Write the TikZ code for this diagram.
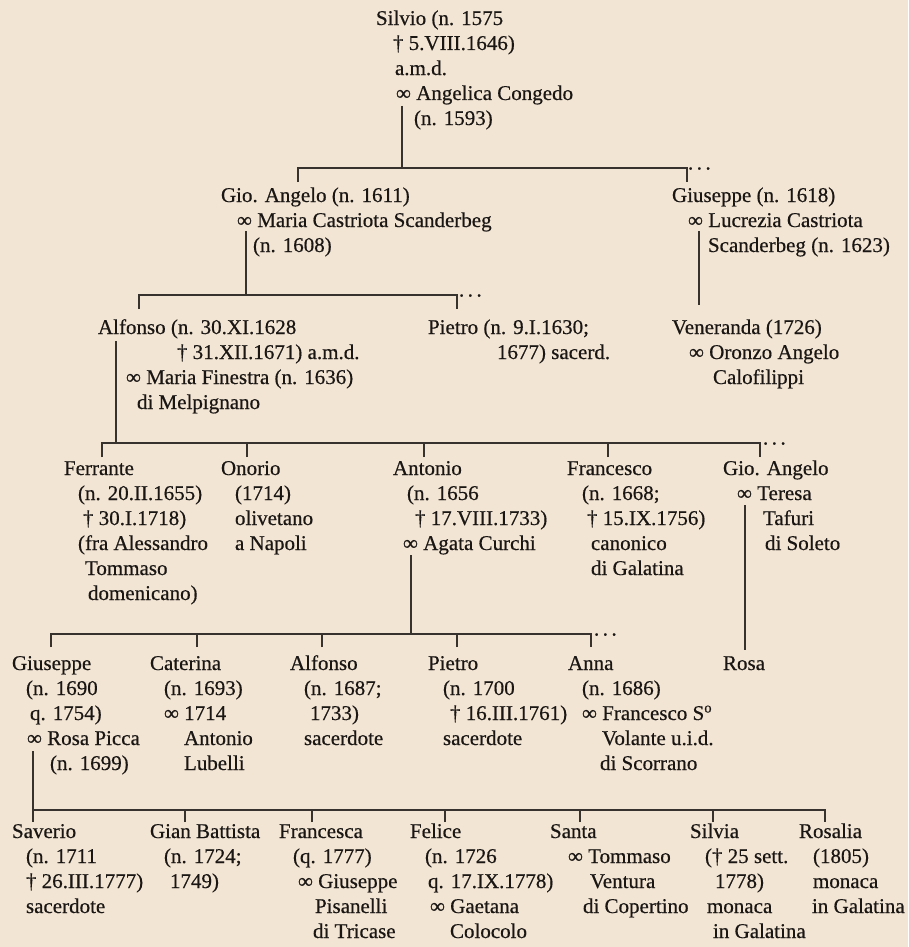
\documentclass[tikz,border=0pt]{standalone}
\usepackage{fontspec}
\setmainfont{Liberation Serif}[FakeBold=0.5]
\definecolor{bgc}{RGB}{243,229,212}
\definecolor{ink}{RGB}{25,22,20}
\definecolor{linec}{RGB}{55,50,46}
\newcommand\pfont{\fontsize{21}{25}\selectfont}
\newcommand\myind[1]{\hspace*{#1pt}}
\newcommand\mydots{.\kern3.5pt.\kern3.5pt.}
\tikzset{
  person/.style={anchor=north west, inner sep=0pt, outer sep=0pt, align=left, font=\pfont, text=ink},
  conn/.style={draw=linec, line width=1.6pt},
  more/.style={anchor=base west, inner sep=0pt, outer sep=0pt, font=\pfont, text=ink}
}
\begin{document}
\begin{tikzpicture}[x=1pt,y=-1pt]
\fill[bgc] (0,0) rectangle (908,947);
\useasboundingbox (0,0) rectangle (908,947);

% ---------- Row 1
\node[person] (silvio) at (376,7.5) {\strut Silvio (n. 1575\\\myind{17}† 5.VIII.1646)\\\myind{19}a.m.d.\\\myind{20}∞ Angelica Congedo\\\myind{38}(n. 1593)};

% ---------- Row 2
\node[person] (gioang1) at (221,184.5) {\strut Gio. Angelo (n. 1611)\\\myind{16}∞ Maria Castriota Scanderbeg\\\myind{32}(n. 1608)};
\node[person] (gius1) at (672,184.5) {\strut Giuseppe (n. 1618)\\\myind{16}∞ Lucrezia Castriota\\\myind{36}Scanderbeg (n. 1623)};

% ---------- Row 3
\node[person] (alfonso1) at (98,316.5) {\strut Alfonso (n. 30.XI.1628\\\myind{79}† 31.XII.1671) a.m.d.\\\myind{28}∞ Maria Finestra (n. 1636)\\\myind{39}di Melpignano};
\node[person] (pietro1) at (428,316.5) {\strut Pietro (n. 9.I.1630;\\\myind{69}1677) sacerd.};
\node[person] (veneranda) at (672,316.5) {\strut Veneranda (1726)\\\myind{17}∞ Oronzo Angelo\\\myind{41}Calofilippi};

% ---------- Row 4
\node[person] (ferrante) at (64,457.5) {\strut Ferrante\\\myind{14}(n. 20.II.1655)\\\myind{19}† 30.I.1718)\\\myind{14}(fra Alessandro\\\myind{21}Tommaso\\\myind{24}domenicano)};
\node[person] (onorio) at (221,457.5) {\strut Onorio\\\myind{14}(1714)\\\myind{14}olivetano\\\myind{14}a Napoli};
\node[person] (antonio) at (393,457.5) {\strut Antonio\\\myind{14}(n. 1656\\\myind{22}† 17.VIII.1733)\\\myind{10}∞ Agata Curchi};
\node[person] (francesco1) at (567,457.5) {\strut Francesco\\\myind{15}(n. 1668;\\\myind{20}† 15.IX.1756)\\\myind{24}canonico\\\myind{24}di Galatina};
\node[person] (gioang2) at (723,457.5) {\strut Gio. Angelo\\\myind{14}∞ Teresa\\\myind{40}Tafuri\\\myind{42}di Soleto};

% ---------- Row 5
\node[person] (gius2) at (12,652.5) {\strut Giuseppe\\\myind{14}(n. 1690\\\myind{18}q. 1754)\\\myind{15}∞ Rosa Picca\\\myind{38}(n. 1699)};
\node[person] (caterina) at (150,652.5) {\strut Caterina\\\myind{14}(n. 1693)\\\myind{14}∞ 1714\\\myind{34}Antonio\\\myind{34}Lubelli};
\node[person] (alfonso2) at (290,652.5) {\strut Alfonso\\\myind{14}(n. 1687;\\\myind{20}1733)\\\myind{14}sacerdote};
\node[person] (pietro2) at (428,652.5) {\strut Pietro\\\myind{15}(n. 1700\\\myind{22}† 16.III.1761)\\\myind{15}sacerdote};
\node[person] (anna) at (568,652.5) {\strut Anna\\\myind{14}(n. 1686)\\\myind{14}∞ Francesco S\textsuperscript{o}\\\myind{34}Volante u.i.d.\\\myind{32}di Scorrano};
\node[person] (rosa) at (723,652.5) {\strut Rosa};

% ---------- Row 6
\node[person] (saverio) at (12,820.5) {\strut Saverio\\\myind{14}(n. 1711\\\myind{14}† 26.III.1777)\\\myind{14}sacerdote};
\node[person] (gianbatt) at (150,820.5) {\strut Gian Battista\\\myind{14}(n. 1724;\\\myind{20}1749)};
\node[person] (francesca) at (279,820.5) {\strut Francesca\\\myind{14}(q. 1777)\\\myind{19}∞ Giuseppe\\\myind{36}Pisanelli\\\myind{34}di Tricase};
\node[person] (felice) at (410,820.5) {\strut Felice\\\myind{15}(n. 1726\\\myind{18}q. 17.IX.1778)\\\myind{20}∞ Gaetana\\\myind{40}Colocolo};
\node[person] (santa) at (550,820.5) {\strut Santa\\\myind{18}∞ Tommaso\\\myind{40}Ventura\\\myind{33}di Copertino};
\node[person] (silvia) at (690,820.5) {\strut Silvia\\\myind{15}(† 25 sett.\\\myind{25}1778)\\\myind{17}monaca\\\myind{23}in Galatina};
\node[person] (rosalia) at (799,820.5) {\strut Rosalia\\\myind{14}(1805)\\\myind{14}monaca\\\myind{13}in Galatina};

% ---------- connector points
% family of Silvio
\coordinate (silvio-d) at (402,106);
\coordinate (b1L) at (298,168); \coordinate (b1R) at (687,168);
\coordinate (k-gioang1) at (298,182); \coordinate (k-gius1) at (687,182);
\draw[conn] (silvio-d) -- (silvio-d |- b1L);
\draw[conn] (k-gioang1) -- (b1L) -- (b1R) -- (k-gius1);
\node[more] (dots1) at (688,169.5) {\mydots};

% family of Gio. Angelo
\coordinate (gioang1-d) at (246,231);
\coordinate (b2L) at (139,295); \coordinate (b2R) at (457,295);
\coordinate (k-alfonso1) at (139,309); \coordinate (k-pietro1) at (457,309);
\draw[conn] (gioang1-d) -- (gioang1-d |- b2L);
\draw[conn] (k-alfonso1) -- (b2L) -- (b2R) -- (k-pietro1);
\node[more] (dots2) at (459,296.5) {\mydots};

% Giuseppe -> Veneranda
\coordinate (gius1-d) at (699,231);
\coordinate (k-veneranda) at (699,305);
\draw[conn] (gius1-d) -- (k-veneranda);

% family of Alfonso
\coordinate (alfonso1-d) at (116,341);
\coordinate (b3L) at (102,443); \coordinate (b3R) at (760,443);
\draw[conn] (alfonso1-d) -- (alfonso1-d |- b3L);
\coordinate (k-ferrante) at (102,457); \coordinate (k-onorio) at (247,457);
\coordinate (k-antonio) at (424,457); \coordinate (k-francesco1) at (608,457);
\coordinate (k-gioang2) at (760,457);
\draw[conn] (k-ferrante) -- (b3L) -- (b3R) -- (k-gioang2);
\draw[conn] (k-onorio) -- (k-onorio |- b3L);
\draw[conn] (k-antonio) -- (k-antonio |- b3L);
\draw[conn] (k-francesco1) -- (k-francesco1 |- b3L);
\node[more] (dots3) at (763,444.5) {\mydots};

% family of Antonio
\coordinate (antonio-d) at (411,555);
\coordinate (b4L) at (51,634); \coordinate (b4R) at (591,634);
\draw[conn] (antonio-d) -- (antonio-d |- b4L);
\coordinate (k-gius2) at (51,647); \coordinate (k-caterina) at (197,647);
\coordinate (k-alfonso2) at (322,647); \coordinate (k-pietro2) at (457,647);
\coordinate (k-anna) at (591,647);
\draw[conn] (k-gius2) -- (b4L) -- (b4R) -- (k-anna);
\draw[conn] (k-caterina) -- (k-caterina |- b4L);
\draw[conn] (k-alfonso2) -- (k-alfonso2 |- b4L);
\draw[conn] (k-pietro2) -- (k-pietro2 |- b4L);
\node[more] (dots4) at (594,635.5) {\mydots};

% Gio. Angelo -> Rosa
\coordinate (gioang2-d) at (745,505);
\coordinate (k-rosa) at (745,650);
\draw[conn] (gioang2-d) -- (k-rosa);

% family of Giuseppe
\coordinate (gius2-d) at (33,751);
\coordinate (b5L) at (33,810); \coordinate (b5R) at (825,810);
\coordinate (k-saverio) at (33,822);
\draw[conn] (gius2-d) -- (k-saverio);
\coordinate (k-gianbatt) at (185,822); \coordinate (k-francesca) at (312,822);
\coordinate (k-felice) at (445,822); \coordinate (k-santa) at (580,822);
\coordinate (k-silvia) at (713,822); \coordinate (k-rosalia) at (825,822);
\draw[conn] (b5L) -- (b5R) -- (k-rosalia);
\draw[conn] (k-gianbatt) -- (k-gianbatt |- b5L);
\draw[conn] (k-francesca) -- (k-francesca |- b5L);
\draw[conn] (k-felice) -- (k-felice |- b5L);
\draw[conn] (k-santa) -- (k-santa |- b5L);
\draw[conn] (k-silvia) -- (k-silvia |- b5L);
\end{tikzpicture}
\end{document}
